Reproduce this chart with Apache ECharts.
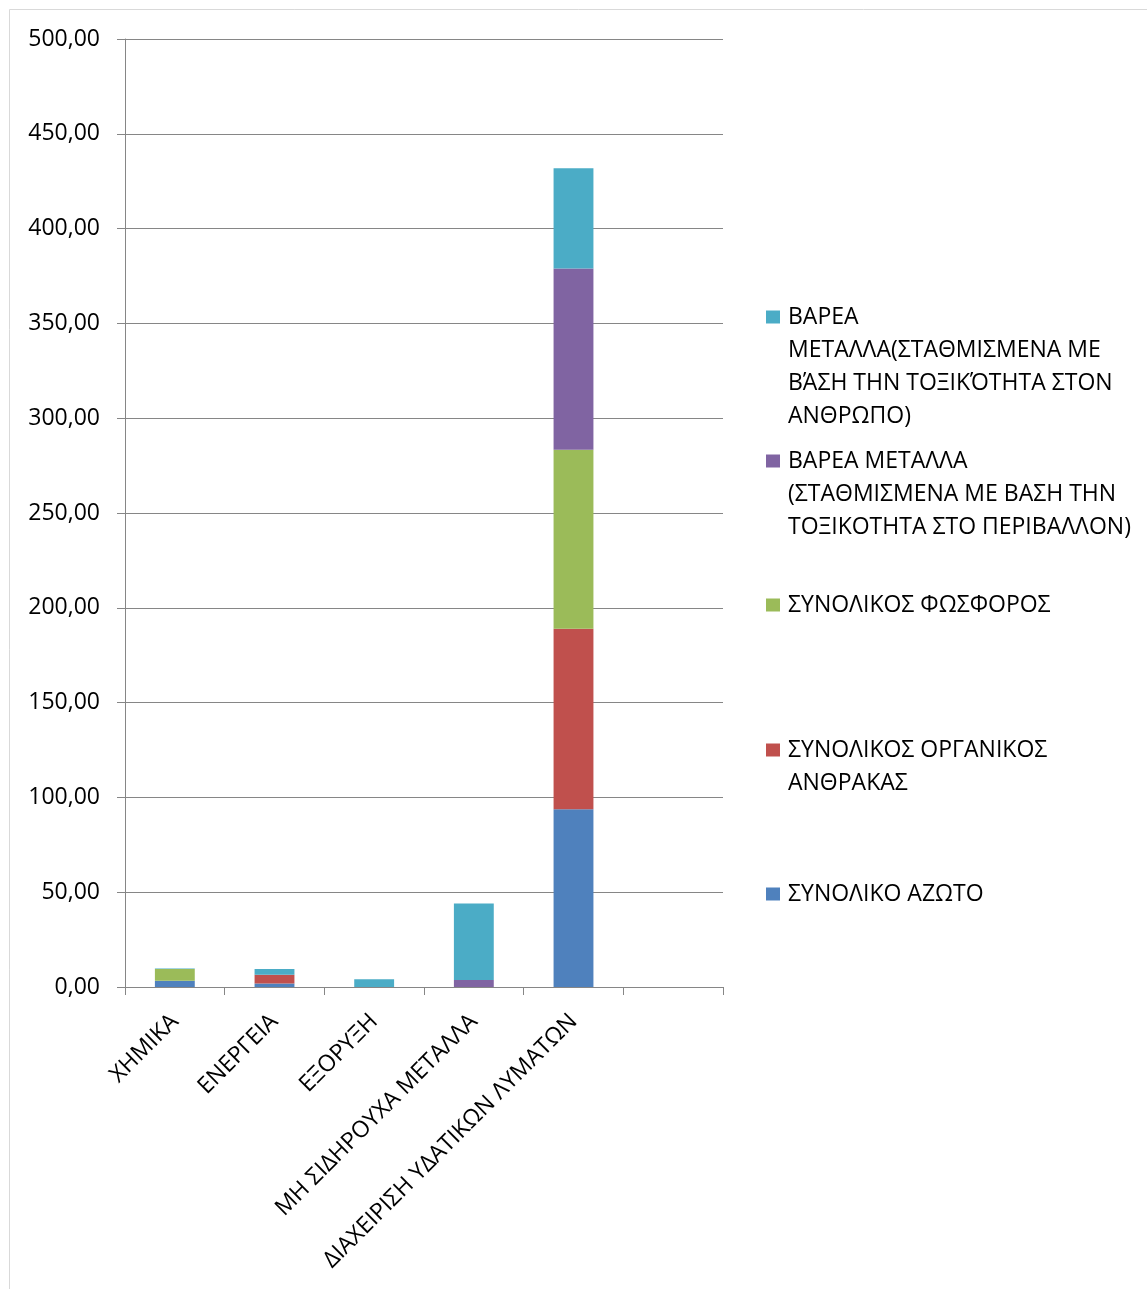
<!DOCTYPE html>
<html>
<head>
<meta charset="utf-8">
<script src="https://cdn.jsdelivr.net/npm/echarts@6/dist/echarts.min.js"></script>
<style>
html,body{margin:0;padding:0;background:#fff;}
#chart{width:1147px;height:1289px;}
</style>
</head>
<body>
<div id="chart"></div>
<script>
const categories = ['ΧΗΜΙΚΑ', 'ΕΝΕΡΓΕΙΑ', 'ΕΞΟΡΥΞΗ', 'ΜΗ ΣΙΔΗΡΟΥΧΑ ΜΕΤΑΛΛΑ', 'ΔΙΑΧΕΙΡΙΣΗ ΥΔΑΤΙΚΩΝ ΛΥΜΑΤΩΝ', ''];
const seriesNames = [
  'ΣΥΝΟΛΙΚΟ ΑΖΩΤΟ',
  'ΣΥΝΟΛΙΚΟΣ ΟΡΓΑΝΙΚΟΣ ΑΝΘΡΑΚΑΣ',
  'ΣΥΝΟΛΙΚΟΣ ΦΩΣΦΟΡΟΣ',
  'ΒΑΡΕΑ ΜΕΤΑΛΛΑ (ΣΤΑΘΜΙΣΜΕΝΑ ΜΕ ΒΑΣΗ ΤΗΝ ΤΟΞΙΚΟΤΗΤΑ ΣΤΟ ΠΕΡΙΒΑΛΛΟΝ)',
  'ΒΑΡΕΑ ΜΕΤΑΛΛΑ(ΣΤΑΘΜΙΣΜΕΝΑ ΜΕ ΒΆΣΗ ΤΗΝ ΤΟΞΙΚΌΤΗΤΑ ΣΤΟΝ ΑΝΘΡΩΠΟ)'
];
const legendLines = [
  ['ΣΥΝΟΛΙΚΟ ΑΖΩΤΟ'],
  ['ΣΥΝΟΛΙΚΟΣ ΟΡΓΑΝΙΚΟΣ', 'ΑΝΘΡΑΚΑΣ'],
  ['ΣΥΝΟΛΙΚΟΣ ΦΩΣΦΟΡΟΣ'],
  ['ΒΑΡΕΑ ΜΕΤΑΛΛΑ', '(ΣΤΑΘΜΙΣΜΕΝΑ ΜΕ ΒΑΣΗ ΤΗΝ', 'ΤΟΞΙΚΟΤΗΤΑ ΣΤΟ ΠΕΡΙΒΑΛΛΟΝ)'],
  ['ΒΑΡΕΑ', 'ΜΕΤΑΛΛΑ(ΣΤΑΘΜΙΣΜΕΝΑ ΜΕ', 'ΒΆΣΗ ΤΗΝ ΤΟΞΙΚΌΤΗΤΑ ΣΤΟΝ', 'ΑΝΘΡΩΠΟ)']
];
const nitrogen  = [3.3, 1.8, 0, 0, 93.7, null];
const carbon    = [0, 4.7, 0, 0, 95.3, null];
const phosphor  = [6.2, 0, 0, 0, 94.4, null];
const metalsEnv = [0, 0, 0, 3.7, 95.6, null];
const metalsHum = [0.3, 3.0, 4.1, 40.4, 52.8, null];
const yTicks = { min: 0, max: 500, interval: 50 };

const seriesData = [nitrogen, carbon, phosphor, metalsEnv, metalsHum];
const colors = ['#4F81BD', '#C0504D', '#9BBB59', '#8064A2', '#4BACC6'];
const FONT = 'Open Sans';
const FS = 23;
const LH = 33;
// first-line centre y of each legend entry (index as seriesNames)
const legendCenters = [894, 750, 605, 461, 317];

const chart = echarts.init(document.getElementById('chart'), null, { renderer: 'canvas' });

const legends = seriesNames.map((name, i) => {
  const n = legendLines[i].length;
  const total = 2 * n - 1;
  const blanks = new Array(n - 1).fill('');
  const text = blanks.concat(legendLines[i]).join('\n');
  return {
    data: [name],
    orient: 'vertical',
    left: 766,
    top: legendCenters[i] - total * LH / 2,
    padding: 0,
    itemWidth: 14,
    itemHeight: 13,
    icon: 'rect',
    selectedMode: false,
    formatter: () => text,
    textStyle: { fontFamily: FONT, fontSize: FS, lineHeight: LH, color: '#000', padding: [0, 0, 0, 3] }
  };
});

chart.setOption({
  backgroundColor: '#fff',
  animation: false,
  color: colors,
  graphic: [{
    type: 'rect',
    shape: { x: 9.5, y: 9.5, width: 1200, height: 1300 },
    style: { fill: 'none', stroke: '#d9d9d9', lineWidth: 1 },
    silent: true
  }],
  legend: legends,
  grid: { left: 125, right: 424, top: 39, bottom: 302, containLabel: false },
  xAxis: {
    type: 'category',
    data: categories,
    axisLine: { lineStyle: { color: '#868686', width: 1 } },
    axisTick: { show: true, length: 8, lineStyle: { color: '#868686' } },
    axisLabel: {
      rotate: 45, interval: 0, margin: 31,
      fontFamily: FONT, fontSize: FS, color: '#000'
    }
  },
  yAxis: {
    type: 'value',
    min: yTicks.min, max: yTicks.max, interval: yTicks.interval,
    axisLine: { show: true, lineStyle: { color: '#868686', width: 1 } },
    axisTick: { show: true, length: 8, lineStyle: { color: '#868686' } },
    splitLine: { lineStyle: { color: '#868686', width: 1 } },
    axisLabel: {
      margin: 25,
      fontFamily: FONT, fontSize: FS, color: '#000',
      formatter: v => v.toFixed(2).replace('.', ',')
    }
  },
  series: seriesNames.map((name, i) => ({
    name,
    type: 'bar',
    stack: 'total',
    barWidth: '40%',
    data: seriesData[i],
    itemStyle: { color: colors[i] }
  }))
});
</script>
</body>
</html>
